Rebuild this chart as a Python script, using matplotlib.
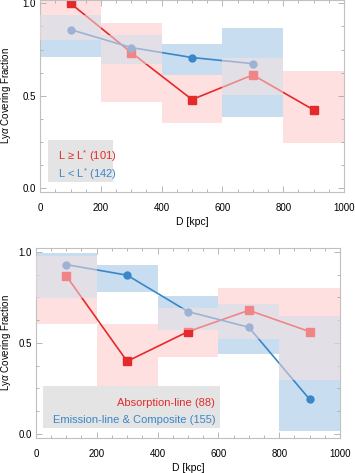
import matplotlib
matplotlib.use("Agg")
import matplotlib.pyplot as plt
from matplotlib.patches import Rectangle
from matplotlib.ticker import MultipleLocator
import numpy as np

plt.rcParams['font.family'] = ['Liberation Sans', 'DejaVu Sans']
plt.rcParams['mathtext.fontset'] = 'custom'
plt.rcParams['mathtext.rm'] = 'Liberation Sans'
plt.rcParams['mathtext.it'] = 'Liberation Sans:italic'

# bins and bin centres [kpc]
bin_lo = [0, 200, 400, 600, 800]
bin_hi = [200, 400, 600, 800, 1000]
centres = [100, 300, 500, 700, 900]

# top panel: luminosity split
top_red = [1.0, 0.734, 0.480, 0.613, 0.424]
top_red_lo = [0.804, 0.468, 0.351, 0.504, 0.246]
top_red_hi = [1.05, 0.894, 0.612, 0.707, 0.633]
top_blue = [0.858, 0.761, 0.707, 0.674]
top_blue_lo = [0.710, 0.674, 0.612, 0.383]
top_blue_hi = [0.935, 0.827, 0.782, 0.869]
top_labels = [r'L ≥ L$^{*}$ (101)', r'L < L$^{*}$ (142)']

# bottom panel: spectral type split
bot_red = [0.868, 0.399, 0.562, 0.679, 0.562]
bot_red_lo = [0.606, 0.229, 0.423, 0.522, 0.295]
bot_red_hi = [0.976, 0.606, 0.692, 0.799, 0.799]
bot_blue = [0.930, 0.872, 0.672, 0.586, 0.190]
bot_blue_lo = [0.744, 0.780, 0.573, 0.440, 0.015]
bot_blue_hi = [0.995, 0.927, 0.755, 0.714, 0.650]
bot_labels = ['Absorption-line (88)', 'Emission-line & Composite (155)']

RED = '#e42a2a'
BLUE = '#3a86c8'
PINK = '#ffe0e0'
LBLUE = '#c8def0'


def panel(ax, red, rlo, rhi, blue, blo, bhi, labels, ylim, ylab_x):
    n_blue = len(blue)
    for i in range(len(red)):
        ax.add_patch(Rectangle((bin_lo[i], rlo[i]), bin_hi[i] - bin_lo[i],
                               rhi[i] - rlo[i], color=PINK, lw=0, zorder=1))
    for i in range(n_blue):
        ax.add_patch(Rectangle((bin_lo[i], blo[i]), bin_hi[i] - bin_lo[i],
                               bhi[i] - blo[i], color=LBLUE, lw=0, zorder=1.1))
    ax.plot(centres[:len(red)], red, '-s', color=RED, lw=1.2, ms=5.5, zorder=2)
    ax.plot(centres[:n_blue], blue, '-o', color=BLUE, lw=1.2, ms=5, zorder=2)
    # overlapping parts of the two ranges wash out the lines
    for i in range(n_blue):
        lo = max(rlo[i], blo[i])
        hi = min(rhi[i], bhi[i])
        if hi > lo:
            ax.add_patch(Rectangle((bin_lo[i], lo), bin_hi[i] - bin_lo[i],
                                   hi - lo, color=PINK, alpha=0.5, lw=0, zorder=3))

    ax.set_xlim(0, 1000)
    ax.set_ylim(*ylim)
    ax.xaxis.set_major_locator(MultipleLocator(200))
    ax.xaxis.set_minor_locator(MultipleLocator(50))
    ax.yaxis.set_major_locator(MultipleLocator(0.5))
    ax.yaxis.set_minor_locator(MultipleLocator(0.125))
    ax.yaxis.set_major_formatter(matplotlib.ticker.FormatStrFormatter('%.1f'))
    ax.tick_params(which='both', direction='in', top=True, right=True,
                   color='#aaaaaa', labelsize=7, pad=3)
    ax.tick_params(which='major', length=4, width=0.6)
    ax.tick_params(which='minor', length=2, width=0.6)
    ax.tick_params(axis='x', pad=8)
    for s in ax.spines.values():
        s.set_color('#c0c0c0')
        s.set_linewidth(0.8)
    ax.set_xlabel('D [kpc]', fontsize=7.5, labelpad=3)
    ax.set_ylabel(r'Ly$\alpha$ Covering Fraction', fontsize=7)
    ax.yaxis.set_label_coords(ylab_x, 0.5)

    for y, lab, col in zip([0.185, 0.095], labels, [RED, BLUE]):
        ax.text(0.06, y, lab, color=col, fontsize=8, ha='left', va='center',
                transform=ax.transAxes, zorder=5)


fig = plt.figure(figsize=(3.55, 4.73), dpi=100)
ax1 = fig.add_axes([0.113, 0.594, 0.856, 0.406])
ax2 = fig.add_axes([0.101, 0.074, 0.857, 0.402])

panel(ax1, top_red, top_red_lo, top_red_hi, top_blue, top_blue_lo, top_blue_hi,
      top_labels, (-0.02, 1.018), -0.089)
panel(ax2, bot_red, bot_red_lo, bot_red_hi, bot_blue, bot_blue_lo, bot_blue_hi,
      bot_labels, (-0.022, 1.022), -0.076)

# grey legend backgrounds
ax1.add_patch(Rectangle((0.025, 0.05), 0.215, 0.22, transform=ax1.transAxes,
                        color='#e4e4e4', lw=0, zorder=4))
ax2.add_patch(Rectangle((0.023, 0.05), 0.583, 0.225, transform=ax2.transAxes,
                        color='#e4e4e4', lw=0, zorder=4))
for t in ax2.texts:
    t.set_x(0.59)
    t.set_ha('right')

fig.savefig('out.png', dpi=100)
